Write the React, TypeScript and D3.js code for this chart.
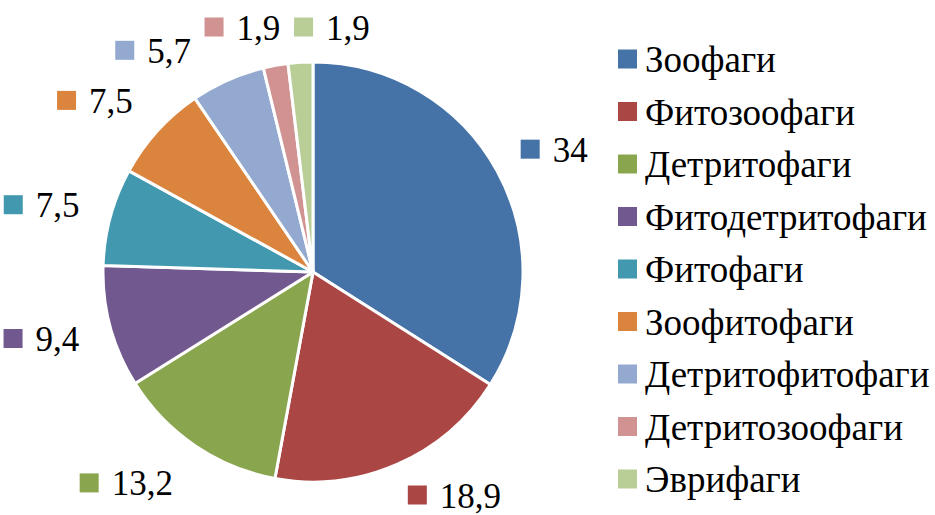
import React from 'react';
import * as d3 from 'd3';

const categories = ['Зоофаги', 'Фитозоофаги', 'Детритофаги', 'Фитодетритофаги', 'Фитофаги', 'Зоофитофаги', 'Детритофитофаги', 'Детритозоофаги', 'Эврифаги'];
const values = [34, 18.9, 13.2, 9.4, 7.5, 7.5, 5.7, 1.9, 1.9];
const valueLabels = ['34', '18,9', '13,2', '9,4', '7,5', '7,5', '5,7', '1,9', '1,9'];
const colors = ['#4572A7', '#AA4643', '#89A54E', '#71588F', '#4198AF', '#DB843D', '#93A9CF', '#D19392', '#B9CD96'];

const W = 935;
const H = 515;
const cx = 313;
const cy = 272;
const radius = 210;
const labelSize = 35;
const legendSize = 37;
const font = 'Liberation Serif, Times New Roman, serif';

// approximate glyph widths of the rendered font
const textWidth = (s: string) => s.split('').reduce((acc, c) => acc + (c === ',' ? 0.278 : 0.556), 0) * labelSize;

const App = () => {
  const arcs = d3.pie<number>().sort(null).value(d => d)(values);
  const arc = d3.arc<d3.PieArcDatum<number>>().innerRadius(0).outerRadius(radius);

  // label layout: nearest corner of each label box sits on a ring round the pie,
  // kept inside the picture, then neighbours are spread apart
  const ring = 237;
  const boxH = 36;
  const sq = 19;
  const gap = 13;
  const minY = 27;
  const maxY = 495;
  const widths = valueLabels.map(l => sq + gap + textWidth(l));
  const theta = arcs.map(a => (a.startAngle + a.endAngle) / 2);
  const place = (i: number) => {
    const ux = Math.sin(theta[i]);
    const uy = -Math.cos(theta[i]);
    const side = Math.max(-1, Math.min(1, ux * 2.5));
    const x = cx + ux * ring + side * widths[i] / 2;
    let y = cy + uy * ring + uy * boxH / 2;
    y = Math.max(minY, Math.min(maxY, y));
    return { x, y, x0: x - widths[i] / 2, x1: x + widths[i] / 2, y0: y - boxH / 2, y1: y + boxH / 2 };
  };
  for (let it = 0; it < 800; it++) {
    let moved = false;
    for (let i = 0; i < values.length; i++) {
      const j = (i + 1) % values.length;
      const a = place(i);
      const b = place(j);
      const pad = 8;
      if (a.x0 < b.x1 + pad && b.x0 < a.x1 + pad && a.y0 < b.y1 && b.y0 < a.y1) {
        theta[i] -= 0.003;
        theta[j] += 0.003;
        moved = true;
      }
    }
    if (!moved) break;
  }
  const labelPos = values.map((_, i) => place(i));

  return (
    <svg width={W} height={H} style={{ position: 'absolute', left: 0, top: 0, background: '#fff' }}>
      <g transform={`translate(${cx},${cy})`}>
        {arcs.map((a, i) => (
          <path key={i} d={arc(a) || ''} fill={colors[i]} stroke="#fff" strokeWidth={3} strokeLinejoin="round" />
        ))}
      </g>
      {labelPos.map((p, i) => (
        <g key={i}>
          <rect x={p.x0} y={p.y - sq / 2} width={sq} height={sq} fill={colors[i]} />
          <text x={p.x0 + sq + gap} y={p.y + 12.5} fontFamily={font} fontSize={labelSize} fill="#000">{valueLabels[i]}</text>
        </g>
      ))}
      {categories.map((c, i) => {
        const yc = 59 + i * 52.5;
        return (
          <g key={c}>
            <rect x={618} y={yc - sq / 2} width={sq} height={sq} fill={colors[i]} />
            <text x={645} y={yc + 13} fontFamily={font} fontSize={legendSize} fill="#000">{c}</text>
          </g>
        );
      })}
    </svg>
  );
};

export default App;
